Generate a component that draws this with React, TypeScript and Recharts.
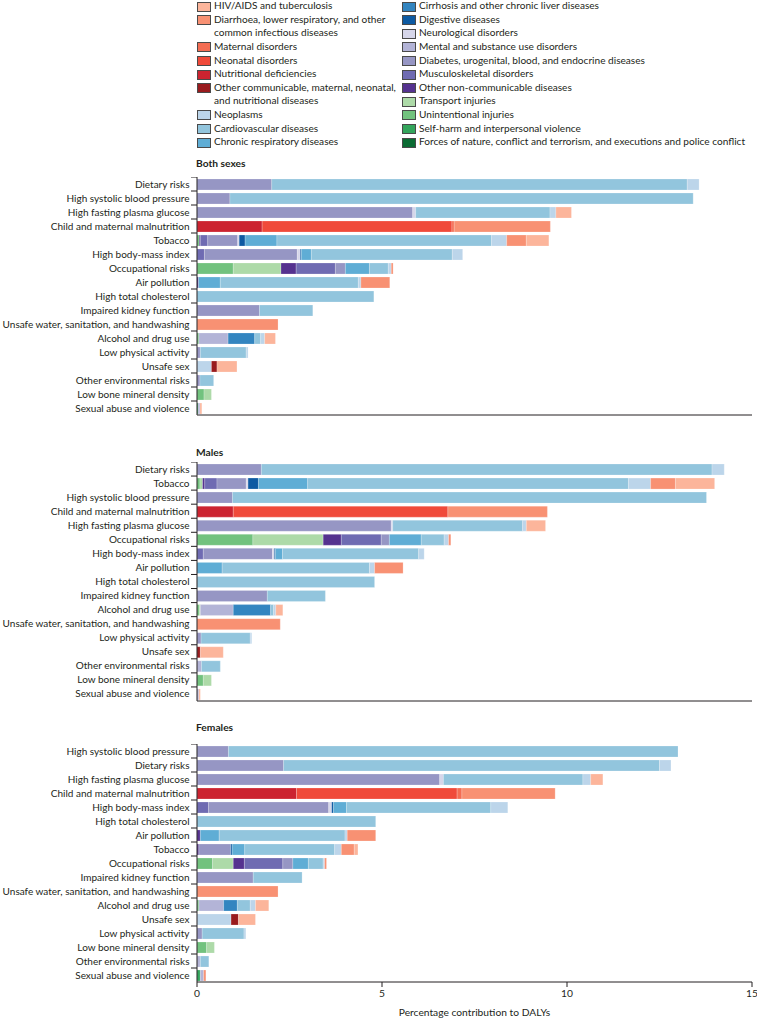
import React from 'react';
import { BarChart, Bar, XAxis, YAxis } from 'recharts';

const FONT = "Lato, sans-serif";
const INK = '#231f20';

// stacking order, left to right
const causeKeys = ['forces', 'selfharm', 'unint', 'transport', 'otherncd', 'msk', 'diab', 'mental', 'neuro', 'digestive', 'cirrhosis', 'chronresp', 'cvd', 'neo', 'othercomm', 'nutr', 'neonatal', 'maternal', 'diarr', 'hiv'];
const causeNames: Record<string, string> = {
  hiv: 'HIV/AIDS and tuberculosis',
  diarr: 'Diarrhoea, lower respiratory, and other\ncommon infectious diseases',
  maternal: 'Maternal disorders',
  neonatal: 'Neonatal disorders',
  nutr: 'Nutritional deficiencies',
  othercomm: 'Other communicable, maternal, neonatal,\nand nutritional diseases',
  neo: 'Neoplasms',
  cvd: 'Cardiovascular diseases',
  chronresp: 'Chronic respiratory diseases',
  cirrhosis: 'Cirrhosis and other chronic liver diseases',
  digestive: 'Digestive diseases',
  neuro: 'Neurological disorders',
  mental: 'Mental and substance use disorders',
  diab: 'Diabetes, urogenital, blood, and endocrine diseases',
  msk: 'Musculoskeletal disorders',
  otherncd: 'Other non-communicable diseases',
  transport: 'Transport injuries',
  unint: 'Unintentional injuries',
  selfharm: 'Self-harm and interpersonal violence',
  forces: 'Forces of nature, conflict and terrorism, and executions and police conflict',
};
const causeColors: Record<string, string> = {
  hiv: '#fcb59b', diarr: '#f89173', maternal: '#f46d53', neonatal: '#f04a3a', nutr: '#cc2330',
  othercomm: '#991b1e', neo: '#bcd5ea', cvd: '#92c5dd', chronresp: '#5fadd5', cirrhosis: '#3385c0',
  digestive: '#0d5aa2', neuro: '#d6d6ea', mental: '#b3b4d7', diab: '#9696c4', msk: '#6f6bb2',
  otherncd: '#55328f', transport: '#addaa8', unint: '#72c27e', selfharm: '#33a55c', forces: '#0b6b33',
};
const legendLeft = ['hiv', 'diarr', 'maternal', 'neonatal', 'nutr', 'othercomm', 'neo', 'cvd', 'chronresp'];
const legendRight = ['cirrhosis', 'digestive', 'neuro', 'mental', 'diab', 'msk', 'otherncd', 'transport', 'unint', 'selfharm', 'forces'];

const xTicks = [0, 5, 10, 15];

type Seg = [string, number];

const bothRisks = ['Dietary risks', 'High systolic blood pressure', 'High fasting plasma glucose', 'Child and maternal malnutrition', 'Tobacco', 'High body-mass index', 'Occupational risks', 'Air pollution', 'High total cholesterol', 'Impaired kidney function', 'Unsafe water, sanitation, and handwashing', 'Alcohol and drug use', 'Low physical activity', 'Unsafe sex', 'Other environmental risks', 'Low bone mineral density', 'Sexual abuse and violence'];
const bothValues: Seg[][] = [
  [['diab', 2.02], ['cvd', 11.23], ['neo', 0.32]],
  [['diab', 0.89], ['cvd', 12.52]],
  [['diab', 5.83], ['neuro', 0.08], ['cvd', 3.63], ['neo', 0.16], ['hiv', 0.42]],
  [['nutr', 1.76], ['neonatal', 5.13], ['maternal', 0.06], ['diarr', 2.6]],
  [['unint', 0.06], ['otherncd', 0.03], ['msk', 0.2], ['diab', 0.81], ['neuro', 0.04], ['digestive', 0.16], ['chronresp', 0.86], ['cvd', 5.8], ['neo', 0.41], ['diarr', 0.53], ['hiv', 0.61]],
  [['msk', 0.2], ['diab', 2.51], ['neuro', 0.08], ['digestive', 0.03], ['chronresp', 0.27], ['cvd', 3.81], ['neo', 0.28]],
  [['unint', 0.98], ['transport', 1.29], ['otherncd', 0.41], ['msk', 1.06], ['diab', 0.27], ['chronresp', 0.65], ['cvd', 0.51], ['neo', 0.08], ['diarr', 0.05]],
  [['otherncd', 0.04], ['chronresp', 0.59], ['cvd', 3.73], ['neo', 0.07], ['diarr', 0.78]],
  [['cvd', 4.78]],
  [['diab', 1.69], ['cvd', 1.44]],
  [['diarr', 2.19]],
  [['unint', 0.05], ['mental', 0.79], ['cirrhosis', 0.72], ['cvd', 0.16], ['neo', 0.11], ['hiv', 0.29]],
  [['diab', 0.09], ['cvd', 1.24], ['neo', 0.05]],
  [['neo', 0.39], ['othercomm', 0.15], ['hiv', 0.54]],
  [['diab', 0.08], ['cvd', 0.37]],
  [['unint', 0.19], ['transport', 0.2]],
  [['selfharm', 0.03], ['mental', 0.05], ['hiv', 0.05]],
];

const maleRisks = ['Dietary risks', 'Tobacco', 'High systolic blood pressure', 'Child and maternal malnutrition', 'High fasting plasma glucose', 'Occupational risks', 'High body-mass index', 'Air pollution', 'High total cholesterol', 'Impaired kidney function', 'Alcohol and drug use', 'Unsafe water, sanitation, and handwashing', 'Low physical activity', 'Unsafe sex', 'Other environmental risks', 'Low bone mineral density', 'Sexual abuse and violence'];
const maleValues: Seg[][] = [
  [['diab', 1.74], ['cvd', 12.18], ['neo', 0.33]],
  [['unint', 0.08], ['transport', 0.07], ['otherncd', 0.06], ['msk', 0.33], ['diab', 0.79], ['neuro', 0.05], ['digestive', 0.28], ['chronresp', 1.33], ['cvd', 8.67], ['neo', 0.6], ['diarr', 0.67], ['hiv', 1.06]],
  [['diab', 0.96], ['cvd', 12.81]],
  [['nutr', 0.98], ['neonatal', 5.8], ['diarr', 2.69]],
  [['diab', 5.25], ['neuro', 0.04], ['cvd', 3.51], ['neo', 0.1], ['hiv', 0.52]],
  [['unint', 1.51], ['transport', 1.9], ['otherncd', 0.49], ['msk', 1.08], ['diab', 0.22], ['chronresp', 0.86], ['cvd', 0.62], ['neo', 0.12], ['diarr', 0.06]],
  [['msk', 0.17], ['diab', 1.87], ['neuro', 0.05], ['digestive', 0.03], ['chronresp', 0.19], ['cvd', 3.68], ['neo', 0.15]],
  [['chronresp', 0.68], ['cvd', 3.98], ['neo', 0.14], ['diarr', 0.77]],
  [['cvd', 4.8]],
  [['diab', 1.9], ['cvd', 1.57]],
  [['unint', 0.06], ['transport', 0.03], ['mental', 0.89], ['cirrhosis', 1.01], ['cvd', 0.08], ['neo', 0.06], ['hiv', 0.19]],
  [['diarr', 2.25]],
  [['diab', 0.11], ['cvd', 1.33], ['neo', 0.04]],
  [['othercomm', 0.09], ['hiv', 0.62]],
  [['mental', 0.12], ['cvd', 0.51]],
  [['unint', 0.17], ['transport', 0.22]],
  [['mental', 0.05], ['hiv', 0.04]],
];

const femaleRisks = ['High systolic blood pressure', 'Dietary risks', 'High fasting plasma glucose', 'Child and maternal malnutrition', 'High body-mass index', 'High total cholesterol', 'Air pollution', 'Tobacco', 'Occupational risks', 'Impaired kidney function', 'Unsafe water, sanitation, and handwashing', 'Alcohol and drug use', 'Unsafe sex', 'Low physical activity', 'Low bone mineral density', 'Other environmental risks', 'Sexual abuse and violence'];
const femaleValues: Seg[][] = [
  [['diab', 0.85], ['cvd', 12.15]],
  [['diab', 2.34], ['cvd', 10.16], ['neo', 0.31]],
  [['otherncd', 0.02], ['diab', 6.54], ['neuro', 0.1], ['cvd', 3.77], ['neo', 0.21], ['hiv', 0.33]],
  [['nutr', 2.69], ['neonatal', 4.34], ['maternal', 0.13], ['diarr', 2.52]],
  [['msk', 0.31], ['diab', 3.25], ['neuro', 0.08], ['digestive', 0.05], ['chronresp', 0.35], ['cvd', 3.9], ['neo', 0.46]],
  [['cvd', 4.83]],
  [['otherncd', 0.09], ['chronresp', 0.51], ['cvd', 3.4], ['neo', 0.06], ['diarr', 0.77]],
  [['otherncd', 0.05], ['diab', 0.86], ['digestive', 0.04], ['chronresp', 0.34], ['cvd', 2.43], ['neo', 0.18], ['diarr', 0.35], ['hiv', 0.1]],
  [['unint', 0.42], ['transport', 0.56], ['otherncd', 0.3], ['msk', 1.04], ['diab', 0.27], ['chronresp', 0.42], ['cvd', 0.4], ['neo', 0.04], ['diarr', 0.05]],
  [['diab', 1.52], ['cvd', 1.32]],
  [['diarr', 2.19]],
  [['unint', 0.05], ['mental', 0.67], ['cirrhosis', 0.37], ['cvd', 0.35], ['neo', 0.14], ['hiv', 0.36]],
  [['neo', 0.92], ['othercomm', 0.2], ['hiv', 0.46]],
  [['diab', 0.14], ['cvd', 1.13], ['neo', 0.05]],
  [['unint', 0.26], ['transport', 0.21]],
  [['mental', 0.09], ['cvd', 0.23]],
  [['selfharm', 0.09], ['mental', 0.09], ['diarr', 0.06]],
];

function buildRows(risks: string[], values: Seg[][]) {
  return risks.map((risk, i) => {
    const row: any = { risk };
    causeKeys.forEach((k) => (row[k] = 0));
    values[i].forEach(([k, v]) => (row[k] = v));
    return row;
  });
}

function RiskTick(props: any) {
  const { y, payload, band } = props;
  return (
    <g>
      <line x1={191} x2={197} y1={y - band / 2} y2={y - band / 2} stroke={INK} strokeWidth={1} />
      <text x={189.5} y={y} dy={3.5} textAnchor="end" fontSize={10} fontFamily={FONT} fill={INK}>
        {payload.value}
      </text>
    </g>
  );
}

function Panel({ title, titleY, top, plotH, risks, values, bottom }: any) {
  const rows = buildRows(risks, values);
  const band = plotH / risks.length;
  const axisH = bottom ? 22 : 8;
  return (
    <>
      <div style={{ position: 'absolute', left: 196, top: titleY - 7, fontFamily: FONT, fontSize: 10.25, fontWeight: 700, color: INK, lineHeight: '14px' }}>
        {title}
      </div>
      <div style={{ position: 'absolute', left: 0, top }}>
        <BarChart layout="vertical" width={757} height={plotH + axisH} data={rows} margin={{ top: 0, right: 5, bottom: 0, left: 0 }} barSize={11} barCategoryGap={0}>
          <XAxis
            type="number"
            domain={[0, 15]}
            ticks={xTicks}
            height={axisH}
            tickSize={5}
            tickMargin={3}
            axisLine={{ stroke: INK, strokeWidth: 1 }}
            tickLine={{ stroke: INK, strokeWidth: 1 }}
            tick={bottom ? { fontSize: 10.25, fontFamily: FONT, fill: INK } : false}
            interval={0}
          />
          <YAxis
            type="category"
            dataKey="risk"
            width={197}
            interval={0}
            tickLine={false}
            axisLine={{ stroke: INK, strokeWidth: 1 }}
            tick={(p: any) => <RiskTick {...p} band={band} />}
          />
          {causeKeys.map((k) => (
            <Bar key={k} dataKey={k} stackId="s" fill={causeColors[k]} stroke="#ffffff" strokeOpacity={0.35} strokeWidth={0.6} isAnimationActive={false} />
          ))}
        </BarChart>
      </div>
    </>
  );
}

function LegendItem({ k, x, row }: any) {
  const y = 6 + row * 13.6;
  return (
    <>
      <div style={{ position: 'absolute', left: x, top: y - 4.5, width: 12, height: 8, background: causeColors[k], border: '1px solid #4a4a4a' }} />
      <div style={{ position: 'absolute', left: x + 17, top: y - 6.8, fontFamily: FONT, fontSize: 10.1, lineHeight: '13.6px', color: INK, whiteSpace: 'pre' }}>
        {causeNames[k]}
      </div>
    </>
  );
}

function Legend() {
  let row = 0;
  const left = legendLeft.map((k) => {
    const item = <LegendItem key={k} k={k} x={197} row={row} />;
    row += causeNames[k].includes('\n') ? 2 : 1;
    return item;
  });
  const right = legendRight.map((k, i) => <LegendItem key={k} k={k} x={402} row={i} />);
  return (
    <>
      {left}
      {right}
    </>
  );
}

export default function App() {
  return (
    <div style={{ position: 'absolute', left: 0, top: 0, width: 757, height: 1018, background: '#fff', overflow: 'hidden' }}>
      <Legend />
      <Panel title="Both sexes" titleY={163} top={177} plotH={238} risks={bothRisks} values={bothValues} />
      <Panel title="Males" titleY={452} top={462} plotH={239} risks={maleRisks} values={maleValues} />
      <Panel title="Females" titleY={727} top={744} plotH={238} risks={femaleRisks} values={femaleValues} bottom />
      <div style={{ position: 'absolute', left: 0, width: 757, top: 1005, textAlign: 'center', paddingLeft: 192, boxSizing: 'border-box', fontFamily: FONT, fontSize: 10.25, color: INK, lineHeight: '14px' }}>
        <span style={{ display: 'inline-block', width: 555 }}>Percentage contribution to DALYs</span>
      </div>
    </div>
  );
}
